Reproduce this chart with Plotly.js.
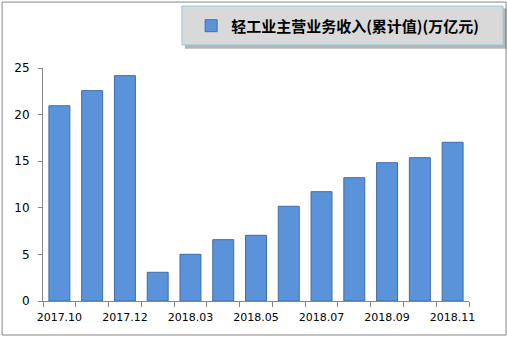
<!DOCTYPE html>
<html><head><meta charset="utf-8">
<script src="https://cdn.plot.ly/plotly-3.0.1.min.js"></script>
<style>html,body{margin:0;padding:0;background:#fff}#chart{width:507px;height:337px}</style>
</head><body><div id="chart"></div>
<script>
const categories = ["2017.10","2017.11","2017.12","2018.02","2018.03","2018.04","2018.05","2018.06","2018.07","2018.08","2018.09","2018.10","2018.11"];
const revenue = [20.95, 22.57, 24.18, 3.08, 5.01, 6.58, 7.05, 10.16, 11.73, 13.23, 14.84, 15.38, 17.03];
const seriesName = "轻工业主营业务收入(累计值)(万亿元)";
const tickText = categories.map((c, i) => (i % 2 === 0 ? c : ""));

const trace = {
  type: "bar", x: categories, y: revenue, name: seriesName,
  marker: {color: "#5b93db", line: {color: "#3f6ea8", width: 1}},
  showlegend: true
};
const layout = {
  width: 507, height: 337,
  margin: {l: 43, r: 38, t: 68, b: 36, autoexpand: false},
  paper_bgcolor: "#ffffff", plot_bgcolor: "#ffffff",
  bargap: 0.36,
  font: {family: "DejaVu Sans, Verdana, sans-serif", size: 11, color: "#000"},
  xaxis: {
    type: "category", tickvals: categories, ticktext: tickText,
    tickson: "boundaries", ticks: "outside", ticklen: 5, tickcolor: "#868686",
    showline: true, linecolor: "#868686", linewidth: 1, showgrid: false,
    ticklabelstandoff: 6, tickangle: 0, automargin: false,
    tickfont: {family: "DejaVu Sans, Verdana, sans-serif", size: 11, color: "#000"}
  },
  yaxis: {
    range: [0, 25], dtick: 5, tick0: 0, ticks: "outside", ticklen: 4, tickcolor: "#868686",
    showline: true, linecolor: "#868686", linewidth: 1, showgrid: false, zeroline: false,
    ticklabelstandoff: 6, automargin: false,
    tickfont: {family: "DejaVu Sans, Verdana, sans-serif", size: 12, color: "#000"}
  },
  showlegend: true,
  legend: {
    xref: "container", yref: "container",
    x: 0.377, y: 0.923, xanchor: "left", yanchor: "middle",
    bgcolor: "rgba(0,0,0,0)", borderwidth: 0, itemwidth: 30,
    font: {family: "Noto Sans CJK SC, sans-serif", size: 15, color: "#000", weight: "bold"}
  },
  shapes: [
    {type: "rect", xref: "paper", yref: "paper", x0: -0.096, x1: 1.087, y0: -0.146, y1: 1.283,
     line: {color: "#868686", width: 1}, fillcolor: "rgba(0,0,0,0)", layer: "below"},
    {type: "rect", xref: "paper", yref: "paper", x0: 0.333, x1: 1.088, y0: 1.083, y1: 1.255,
     line: {width: 0}, fillcolor: "rgba(90,90,90,0.45)", layer: "below"},
    {type: "rect", xref: "paper", yref: "paper", x0: 0.326, x1: 1.080, y0: 1.099, y1: 1.266,
     line: {color: "#8fcde0", width: 1}, fillcolor: "#d9d9d9", layer: "below"}
  ]
};
Plotly.newPlot("chart", [trace], layout, {displayModeBar: false, staticPlot: true});
</script></body></html>
